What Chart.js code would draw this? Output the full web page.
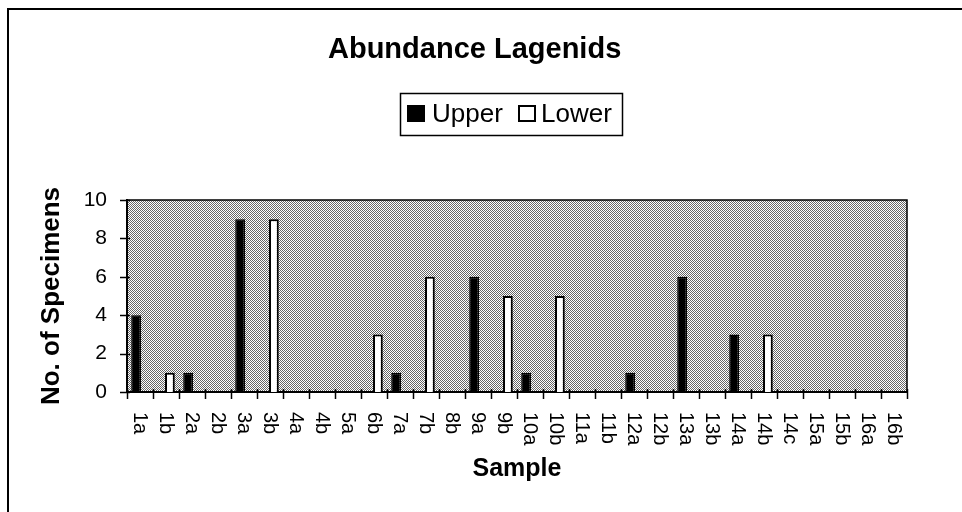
<!DOCTYPE html>
<html><head><meta charset="utf-8">
<script src="https://cdn.jsdelivr.net/npm/chart.js@4"></script>
<style>html,body{margin:0;padding:0;background:#fff}#wrap{width:962px;height:512px;position:relative}</style>
</head><body><div id="wrap"><canvas id="c" width="962" height="512"></canvas></div>
<script>
const chartTitle = 'Abundance Lagenids';
const xTitle = 'Sample';
const yTitle = 'No. of Specimens';
const categories = ['1a','1b','2a','2b','3a','3b','4a','4b','5a','6b','7a','7b','8b','9a','9b','10a','10b','11a','11b','12a','12b','13a','13b','14a','14b','14c','15a','15b','16a','16b'];
const seriesNames = ['Upper','Lower'];
const upperValues = [4,0,1,0,9,0,0,0,0,0,1,0,0,6,0,1,0,0,0,1,0,6,0,3,0,0,0,0,0,0];
const lowerValues = [0,1,0,0,0,9,0,0,0,3,0,6,0,0,5,0,5,0,0,0,0,0,0,0,3,0,0,0,0,0];
const yTicks = [0,2,4,6,8,10];

const FONT = '"Liberation Sans", Arial, Helvetica, sans-serif';

// dithered background pattern
const pc = document.createElement('canvas'); pc.width = 4; pc.height = 4;
const pctx = pc.getContext('2d');
pctx.fillStyle = '#fff'; pctx.fillRect(0,0,4,4);
pctx.fillStyle = '#666';
[[0,0],[2,0],[1,1],[3,1],[0,2],[2,2],[1,3],[3,3]].forEach(([x,y]) => pctx.fillRect(x,y,1,1));

const decor = {
  id: 'decor',
  beforeDraw(chart) {
    const {ctx, chartArea: a} = chart;
    ctx.save();
    ctx.fillStyle = ctx.createPattern(pc, 'repeat');
    ctx.fillRect(a.left, a.top, a.right - a.left, a.bottom - a.top);
    ctx.restore();
  },
  afterDraw(chart) {
    const {ctx, chartArea: a} = chart;
    const xs = chart.scales.x, ys = chart.scales.y;
    ctx.save();
    // plot border top/right
    ctx.strokeStyle = '#000'; ctx.lineWidth = 1.5;
    ctx.beginPath();
    ctx.moveTo(a.left, a.top); ctx.lineTo(a.right, a.top); ctx.lineTo(a.right, a.bottom);
    ctx.stroke();
    // y tick marks crossing axis
    ctx.lineWidth = 1.5;
    yTicks.forEach(v => {
      const y = Math.round(ys.getPixelForValue(v)) + 0.5;
      ctx.beginPath(); ctx.moveTo(a.left - 7, y); ctx.lineTo(a.left + 3, y); ctx.stroke();
    });
    // x tick marks between categories
    for (let i = 0; i <= categories.length; i++) {
      const x = Math.round(xs.getPixelForValue(i - 0.5)) + 0.5;
      ctx.beginPath(); ctx.moveTo(x, a.bottom - 3); ctx.lineTo(x, a.bottom + 7); ctx.stroke();
    }
    // x labels rotated clockwise
    ctx.fillStyle = '#000';
    ctx.font = '20px ' + FONT;
    ctx.textAlign = 'left'; ctx.textBaseline = 'middle';
    categories.forEach((lab, i) => {
      const x = xs.getPixelForValue(i);
      ctx.save();
      ctx.translate(x, a.bottom + 20);
      ctx.rotate(Math.PI / 2);
      ctx.fillText(lab, 0, 0);
      ctx.restore();
    });
    // title
    ctx.font = 'bold 29px ' + FONT;
    ctx.textAlign = 'left'; ctx.textBaseline = 'alphabetic';
    ctx.fillText(chartTitle, 328, 58);
    // legend
    ctx.lineWidth = 1.5; ctx.strokeStyle = '#000';
    ctx.strokeRect(400.5, 93.5, 222, 42);
    ctx.fillStyle = '#000';
    ctx.fillRect(407, 105, 18, 17);
    ctx.fillStyle = '#fff'; ctx.fillRect(519, 105, 17, 17);
    ctx.lineWidth = 2; ctx.strokeRect(519, 106, 16, 15);
    ctx.fillStyle = '#000';
    ctx.font = '26px ' + FONT;
    ctx.fillText(seriesNames[0], 432, 122);
    ctx.fillText(seriesNames[1], 541, 122);
    // outer frame
    ctx.lineWidth = 2;
    ctx.beginPath(); ctx.moveTo(8, 512); ctx.lineTo(8, 9); ctx.lineTo(962, 9); ctx.stroke();
    ctx.restore();
  }
};

new Chart(document.getElementById('c'), {
  type: 'bar',
  data: {
    labels: categories,
    datasets: [
      { label: seriesNames[0], data: upperValues, backgroundColor: '#000', borderColor: '#000', borderWidth: 1.5,
        categoryPercentage: 0.6, barPercentage: 1.25 },
      { label: seriesNames[1], data: lowerValues, backgroundColor: '#fff', borderColor: '#000', borderWidth: 2,
        categoryPercentage: 0.6, barPercentage: 1.25 }
    ]
  },
  options: {
    responsive: false,
    animation: false,
    layout: { padding: { top: 200, right: 55, left: 0, bottom: 0 } },
    plugins: { legend: { display: false }, title: { display: false }, tooltip: { enabled: false } },
    scales: {
      x: {
        grid: { display: false },
        border: { display: true, color: '#000', width: 2 },
        ticks: { display: false },
        title: { display: true, text: xTitle, color: '#000', font: { family: FONT, size: 25, weight: 'bold' }, padding: { top: 0, bottom: 28 } },
        afterFit(s) { s.height = 120; }
      },
      y: {
        min: 0, max: 10,
        afterBuildTicks(s) { s.ticks = yTicks.map(v => ({ value: v })); },
        grid: { display: false, drawTicks: false },
        border: { display: true, color: '#000', width: 2 },
        ticks: { color: '#000', font: { family: FONT, size: 21 }, padding: 20 },
        title: { display: true, text: yTitle, color: '#000', font: { family: FONT, size: 26, weight: 'bold' }, padding: { top: 36, bottom: 0 } },
        afterFit(s) { s.width = 127; }
      }
    }
  },
  plugins: [decor]
});
</script></body></html>
